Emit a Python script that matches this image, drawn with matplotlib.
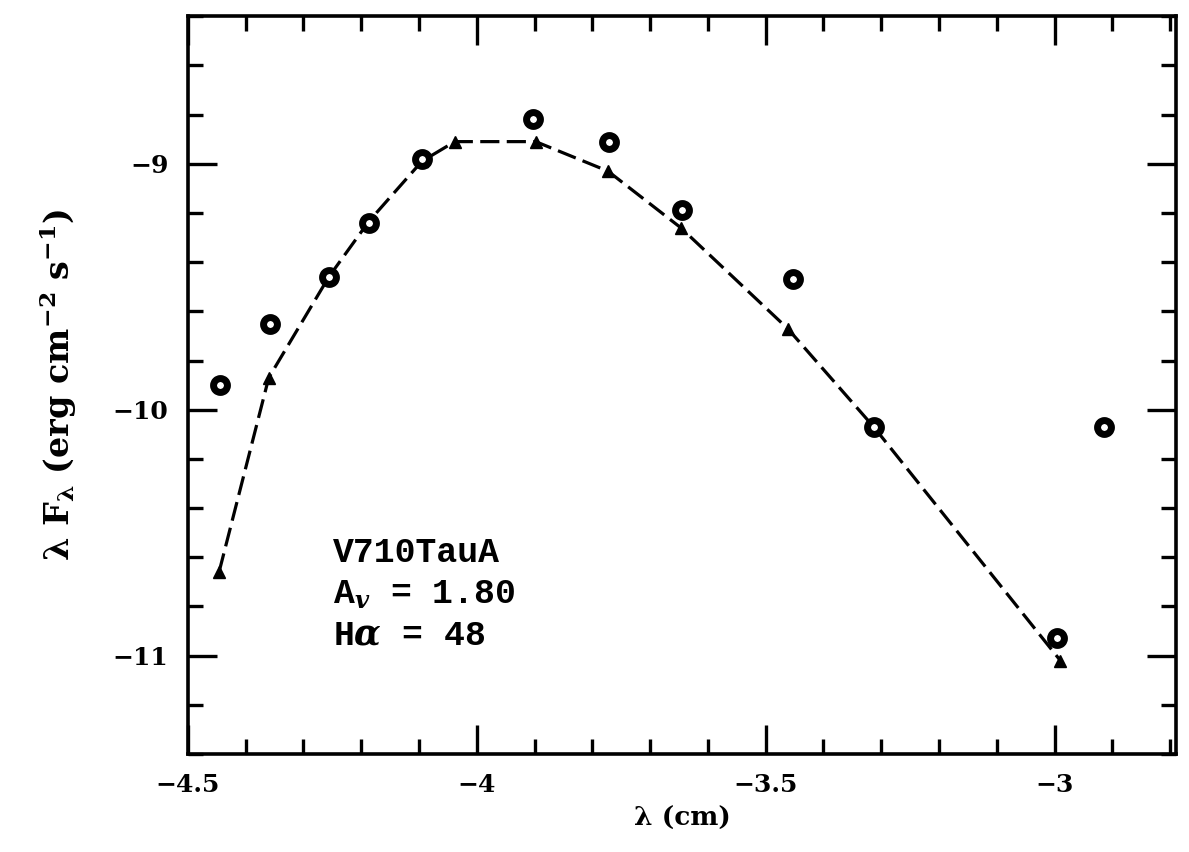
import matplotlib
matplotlib.use("Agg")
import matplotlib.pyplot as plt
from matplotlib.ticker import MultipleLocator

# Observed photometry (log lambda [cm], log lambda F_lambda)
obs_logwl = [-4.445, -4.358, -4.256, -4.187, -4.095, -3.903, -3.772, -3.644, -3.453, -3.313, -2.995, -2.915]
obs_logflux = [-9.90, -9.65, -9.46, -9.24, -8.98, -8.82, -8.91, -9.19, -9.47, -10.07, -10.93, -10.07]

# Model (dashed line with triangle vertices)
mod_logwl = [-4.446, -4.360, -4.256, -4.187, -4.095, -4.038, -3.898, -3.773, -3.647, -3.462, -3.313, -2.990]
mod_logflux = [-10.66, -9.87, -9.46, -9.235, -8.99, -8.91, -8.91, -9.03, -9.26, -9.67, -10.07, -11.02]

label_lines = ["V710TauA", r"A$_v$ = 1.80", r"H$\alpha$ = 48"]

plt.rcParams['font.family'] = ['DejaVu Serif']
plt.rcParams['mathtext.fontset'] = 'custom'
plt.rcParams['mathtext.rm'] = 'DejaVu Serif:bold'
plt.rcParams['mathtext.it'] = 'DejaVu Serif:bold:italic'
plt.rcParams['mathtext.bf'] = 'DejaVu Serif:bold'

fig = plt.figure(figsize=(11.89, 8.52), dpi=100)
ax = fig.add_axes([0.158, 0.115, 0.831, 0.866])

ax.plot(mod_logwl, mod_logflux, color='black', lw=2.3, dashes=(6, 2.3),
        marker='^', markersize=8, markerfacecolor='black', markeredgecolor='black')
ax.plot(obs_logwl, obs_logflux, linestyle='none', marker='o', markersize=10,
        markerfacecolor='white', markeredgecolor='black', markeredgewidth=5)

ax.set_xlim(-4.5, -2.79)
ax.set_ylim(-11.4, -8.4)
ax.xaxis.set_major_locator(MultipleLocator(0.5))
ax.xaxis.set_minor_locator(MultipleLocator(0.1))
ax.yaxis.set_major_locator(MultipleLocator(1))
ax.yaxis.set_minor_locator(MultipleLocator(0.2))
ax.set_xticks([-4.5, -4, -3.5, -3])
ax.set_xticklabels(['\u22124.5', '\u22124', '\u22123.5', '\u22123'])
ax.set_yticks([-11, -10, -9])
ax.set_yticklabels(['\u221211', '\u221210', '\u22129'])

ax.tick_params(which='both', direction='in', top=True, right=True, width=2.4)
ax.tick_params(which='major', length=21, pad=14, labelsize=18)
ax.tick_params(which='minor', length=11)
for lab in ax.get_xticklabels() + ax.get_yticklabels():
    lab.set_fontweight('bold')
for sp in ax.spines.values():
    sp.set_linewidth(2.6)

ax.set_xlabel('λ (cm)', fontsize=19, fontweight='bold', labelpad=6)
ax.set_ylabel('λ F$_\\mathrm{λ}$ (erg cm$^{-2}$ s$^{-1}$)', fontsize=24,
              fontweight='bold', labelpad=24)

ax.text(0.147, 0.295, "\n".join(label_lines), transform=ax.transAxes,
        fontsize=25, fontweight='bold', family=['Liberation Mono', 'DejaVu Sans Mono'],
        va='top', ha='left', linespacing=1.3)

fig.savefig('out.png', dpi=100)
